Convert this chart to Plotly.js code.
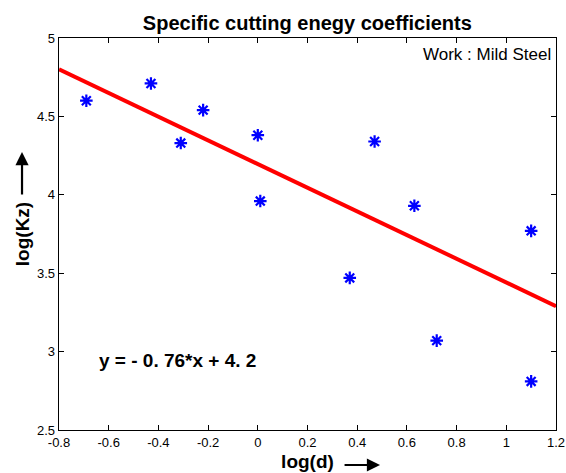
<!DOCTYPE html>
<html>
<head>
<meta charset="utf-8">
<script src="https://cdn.plot.ly/plotly-3.0.1.min.js"></script>
<style>html,body{margin:0;padding:0;background:#fff;}#chart{width:566px;height:473px;}</style>
</head>
<body>
<div id="chart"></div>
<script>
// Measured data: log(d) vs log(Kz)
const logD  = [-0.69, -0.43, -0.31, -0.22, 0.00, 0.01, 0.37, 0.47, 0.63, 0.72, 1.10, 1.10];
const logKz = [4.60, 4.71, 4.33, 4.54, 4.38, 3.96, 3.47, 4.34, 3.93, 3.07, 3.77, 2.81];
// Fitted line endpoints (y = -0.76*x + 4.2)
const fitX = [-0.8, 1.2];
const fitY = [4.80, 3.29];
const xTicks = [-0.8, -0.6, -0.4, -0.2, 0, 0.2, 0.4, 0.6, 0.8, 1, 1.2];
const xTickText = ["-0.8", "-0.6", "-0.4", "-0.2", "0", "0.2", "0.4", "0.6", "0.8", "1", "1.2"];
const yTicks = [2.5, 3, 3.5, 4, 4.5, 5];
const yTickText = ["2.5", "3", "3.5", "4", "4.5", "5"];

const FONT = 'Arial, Liberation Sans, sans-serif';

const traces = [
  {x: fitX, y: fitY, mode: 'lines', line: {color: '#ff0000', width: 4}, hoverinfo: 'skip'},
  {x: logD, y: logKz, mode: 'markers',
   marker: {symbol: 'asterisk-open', size: 10.5, color: '#0000ff', line: {color: '#0000ff', width: 2.2}}}
];

const axisCommon = {
  showgrid: false, zeroline: false, showline: true, linecolor: '#000', linewidth: 1.4,
  mirror: 'ticks', ticks: 'inside', ticklen: 5, tickcolor: '#000', tickwidth: 1,
  tickfont: {family: FONT, size: 13, color: '#000'}
};

const layout = {
  width: 566, height: 473,
  margin: {l: 59, r: 10, t: 38, b: 43},
  paper_bgcolor: '#fff', plot_bgcolor: '#fff',
  showlegend: false,
  title: {text: '<b>Specific cutting enegy coefficients</b>', x: 0.543, xanchor: 'center', y: 0.952, yanchor: 'middle',
          font: {family: FONT, size: 20, color: '#000'}},
  xaxis: Object.assign({}, axisCommon, {
    range: [-0.8, 1.2], tickvals: xTicks, ticktext: xTickText,
    title: {text: '<b>log(d)</b>', standoff: 5, font: {family: FONT, size: 19, color: '#000'}}
  }),
  yaxis: Object.assign({}, axisCommon, {
    range: [2.5, 5], tickvals: yTicks, ticktext: yTickText,
    title: {text: '<b>log(Kz)</b>', standoff: 2, font: {family: FONT, size: 19, color: '#000'}}
  }),
  annotations: [
    {text: 'Work : Mild Steel', xref: 'paper', yref: 'paper', x: 0.993, y: 0.959, xanchor: 'right', yanchor: 'middle',
     showarrow: false, font: {family: FONT, size: 17, color: '#000'}},
    {text: '<b>y = - 0. 76*x + 4. 2</b>', xref: 'paper', yref: 'paper', x: 0.076, y: 0.178, xanchor: 'left', yanchor: 'middle',
     showarrow: false, font: {family: FONT, size: 19, color: '#000'}},
    // arrow after x-axis title
    {text: '', xref: 'paper', yref: 'paper', x: 0.646, y: -0.0893, ax: -37, ay: 0,
     showarrow: true, arrowhead: 2, arrowsize: 1.2, arrowwidth: 2.2, arrowcolor: '#000'},
    // arrow after y-axis title
    {text: '', xref: 'paper', yref: 'paper', x: -0.0744, y: 0.709, ax: 0, ay: 44,
     showarrow: true, arrowhead: 2, arrowsize: 1.2, arrowwidth: 2.2, arrowcolor: '#000'}
  ]
};

Plotly.newPlot('chart', traces, layout, {displayModeBar: false, staticPlot: true});
</script>
</body>
</html>
